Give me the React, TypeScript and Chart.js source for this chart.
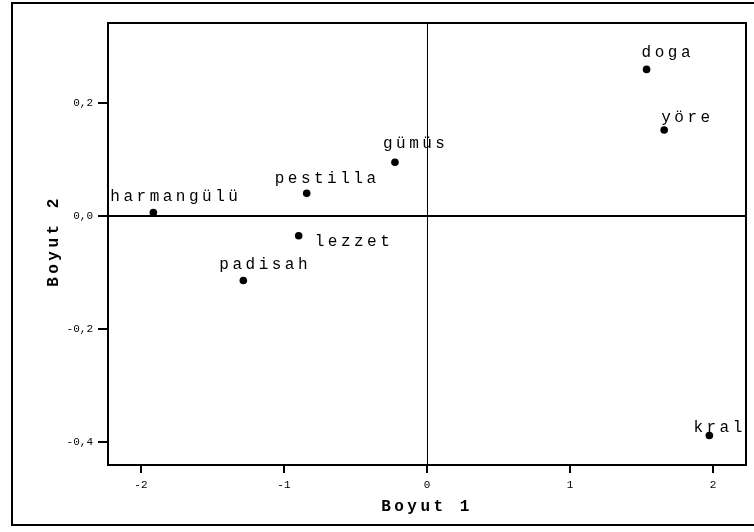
import React, { useEffect, useRef } from "react";
import { Chart, registerables } from "chart.js";

Chart.register(...registerables);

// ---- data ----
const brands = ["doga", "yöre", "gümüs", "pestilla", "harmangülü", "lezzet", "padisah", "kral"];
const boyut1 = [1.535, 1.658, -0.224, -0.841, -1.913, -0.897, -1.284, 1.974];
const boyut2 = [0.259, 0.152, 0.095, 0.040, 0.006, -0.035, -0.114, -0.388];
const xTitle = "Boyut 1";
const yTitle = "Boyut 2";

// ---- label layout (pixel offsets from the point) ----
const labelDx = [-5, -3, -12, -32, -43, 16, -24, -16];
const labelDy = [-12, -8, -14, -10, -12, 10, -12, -4];

const MONO = "'Liberation Mono', 'DejaVu Sans Mono', monospace";

const fmtY = (v: number) => (Math.abs(v) < 1e-9 ? 0 : v).toFixed(1).replace(".", ",");
const fmtX = (v: number) => String(Math.round(v));

const decor = {
  id: "decor",
  beforeDatasetsDraw(chart: any) {
    const { ctx, chartArea: a, scales } = chart;
    ctx.save();
    ctx.strokeStyle = "#000";
    // zero lines
    const x0 = Math.round(scales.x.getPixelForValue(0)) + 0.5;
    const y0 = Math.round(scales.y.getPixelForValue(0));
    ctx.lineWidth = 1;
    ctx.beginPath();
    ctx.moveTo(x0, a.top);
    ctx.lineTo(x0, a.bottom);
    ctx.stroke();
    ctx.lineWidth = 2;
    ctx.beginPath();
    ctx.moveTo(a.left, y0);
    ctx.lineTo(a.right, y0);
    ctx.stroke();
    ctx.restore();
  },
  afterDraw(chart: any) {
    const { ctx, chartArea: a, scales } = chart;
    ctx.save();
    ctx.strokeStyle = "#000";
    // plot frame
    ctx.lineWidth = 2;
    ctx.strokeRect(a.left, a.top, a.right - a.left, a.bottom - a.top);
    // outer frame
    ctx.strokeRect(12, 3, 760, 522);

    // point labels
    ctx.fillStyle = "#000";
    ctx.font = `16px ${MONO}`;
    (ctx as any).letterSpacing = "3.5px";
    ctx.textAlign = "left";
    ctx.textBaseline = "alphabetic";
    brands.forEach((name, i) => {
      const px = scales.x.getPixelForValue(boyut1[i]);
      const py = scales.y.getPixelForValue(boyut2[i]);
      ctx.fillText(name, px + labelDx[i], py + labelDy[i]);
    });

    // axis titles
    ctx.font = `bold 16px ${MONO}`;
    (ctx as any).letterSpacing = "3.5px";
    ctx.textAlign = "center";
    ctx.textBaseline = "middle";
    ctx.fillText(xTitle, (a.left + a.right) / 2, 507);
    ctx.translate(54, (a.top + a.bottom) / 2 - 3);
    ctx.rotate(-Math.PI / 2);
    ctx.fillText(yTitle, 0, 0);
    ctx.restore();
  },
};

export default function App() {
  const ref = useRef<HTMLCanvasElement>(null);
  useEffect(() => {
    if (!ref.current) return;
    const chart = new Chart(ref.current, {
      type: "scatter",
      data: {
        datasets: [
          {
            data: boyut1.map((x, i) => ({ x, y: boyut2[i] })),
            pointRadius: 3.8,
            pointHoverRadius: 3.8,
            backgroundColor: "#000",
            borderColor: "#000",
            borderWidth: 0,
          },
        ],
      },
      options: {
        animation: false,
        responsive: false,
        devicePixelRatio: 1,
        events: [],
        layout: { padding: { top: 23, right: 8, left: 0, bottom: 0 } },
        plugins: { legend: { display: false }, tooltip: { enabled: false } },
        scales: {
          x: {
            type: "linear",
            min: -2.23,
            max: 2.23,
            afterFit: (s: any) => {
              s.height = 67;
            },
            border: { display: false },
            grid: { drawOnChartArea: false, drawTicks: true, tickLength: 8, color: "#000", lineWidth: 2 },
            ticks: {
              stepSize: 1,
              includeBounds: false,
              color: "#000",
              padding: 5,
              maxRotation: 0,
              font: { family: MONO, size: 11 },
              callback: (v: any) => fmtX(Number(v)),
            },
          },
          y: {
            type: "linear",
            min: -0.44,
            max: 0.341,
            afterFit: (s: any) => {
              s.width = 108;
            },
            border: { display: false },
            grid: { drawOnChartArea: false, drawTicks: true, tickLength: 10, color: "#000", lineWidth: 2 },
            ticks: {
              stepSize: 0.2,
              includeBounds: false,
              color: "#000",
              padding: 5,
              font: { family: MONO, size: 11 },
              callback: (v: any) => fmtY(Number(v)),
            },
          },
        },
      },
      plugins: [decor],
    });
    return () => chart.destroy();
  }, []);
  return (
    <div style={{ position: "absolute", left: 0, top: 0, width: 754, height: 532, background: "#fff" }}>
      <canvas ref={ref} width={754} height={532} style={{ display: "block" }} />
    </div>
  );
}
